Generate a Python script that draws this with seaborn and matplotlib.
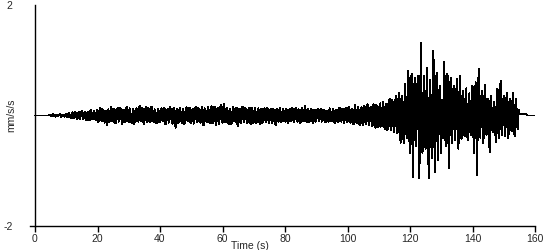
import numpy as np
import matplotlib
matplotlib.use("Agg")
import matplotlib.pyplot as plt
import seaborn as sns
import pandas as pd

# sample spacing of the trace (s)
dt = 0.25

# acceleration (mm/s/s): samples at whole/half seconds
acc_000 = [0, 0, 0, 0, 0, 0, 0, 0, 0, 0, 0.01, -0.01, 0.01, -0.02, 0.01, -0.01, 0.02, -0.01, 0.01, -0.02]
acc_010 = [0.02, -0.02, 0.03, -0.05, 0.06, -0.04, 0.05, -0.07, 0.06, -0.05, 0.08, -0.06, 0.07, -0.09, 0.06, -0.08, 0.10, -0.07, 0.09, -0.08]
acc_020 = [0.10, -0.08, 0.12, -0.10, 0.09, -0.12, -0.18, 0.11, -0.09, 0.13, -0.11, 0.10, -0.12, 0.14, -0.08, 0.12, -0.13, 0.09, -0.11, 0.15]
acc_030 = [-0.12, 0.10, -0.14, 0.12, -0.09, 0.13, -0.11, 0.18, -0.10, 0.12, -0.13, 0.16, -0.12, 0.11, -0.10, 0.14, -0.12, 0.10, -0.13, 0.12]
acc_040 = [-0.11, 0.13, -0.10, 0.12, -0.14, 0.11, -0.12, 0.10, -0.15, 0.13, -0.22, 0.12, -0.11, 0.14, -0.13, 0.10, -0.12, 0.15, -0.10, 0.13]
acc_050 = [-0.14, 0.12, -0.11, 0.16, -0.12, 0.10, -0.13, 0.15, -0.18, 0.12, -0.11, 0.14, -0.13, 0.17, -0.12, 0.15, -0.18, 0.13, -0.12, 0.19]
acc_060 = [-0.13, 0.21, -0.12, 0.14, -0.15, 0.12, -0.13, 0.16, -0.11, 0.14, -0.19, 0.12, -0.13, 0.15, -0.12, 0.11, -0.14, 0.13, -0.16, 0.12]
acc_070 = [-0.12, 0.14, -0.11, 0.13, -0.15, 0.12, -0.10, 0.13, -0.12, 0.11, -0.14, 0.12, -0.11, 0.10, -0.17, 0.12, -0.11, 0.13, -0.10, 0.12]
acc_080 = [-0.11, 0.10, -0.13, 0.12, -0.10, 0.11, -0.12, 0.14, -0.11, 0.10, -0.12, 0.13, -0.10, 0.18, -0.11, 0.12, -0.10, 0.11, -0.13, 0.10]
acc_090 = [-0.09, 0.11, -0.10, 0.12, -0.09, 0.10, -0.12, 0.09, -0.11, 0.12, -0.10, 0.11, -0.13, 0.10, -0.12, 0.14, -0.11, 0.12, -0.14, 0.13]
acc_100 = [-0.12, 0.15, -0.13, 0.12, -0.16, 0.19, -0.14, 0.13, -0.17, 0.15, -0.18, 0.16, -0.15, 0.20, -0.17, 0.16, -0.19, 0.18, -0.22, 0.17]
acc_110 = [-0.20, 0.22, -0.18, 0.20, -0.24, 0.21, -0.22, 0.30, -0.27, 0.24, -0.30, 0.36, -0.32, 0.40, -0.49, 0.35, -0.50, 0.58, -0.40, 0.81]
acc_120 = [-0.68, 0.76, -1.12, 0.68, -0.55, 0.72, -1.14, 1.31, -0.68, 0.72, -0.60, 0.86, -1.14, 0.65, -0.77, 1.17, -1.03, 0.77, -0.81, 0.54]
acc_130 = [-0.68, -0.40, 0.97, -0.55, 0.76, -0.95, 0.68, -0.50, 0.54, -0.45, 0.66, -0.60, 0.72, -0.42, 0.45, -0.38, 0.49, -0.45, 0.40, -0.35]
acc_140 = [0.54, -0.68, 0.60, -1.08, 0.85, -0.40, 0.45, -0.50, 0.55, -0.35, 0.30, -0.67, 0.35, -0.30, 0.25, -0.49, 0.49, -0.40, 0.63, -0.35]
acc_150 = [0.35, -0.38, 0.41, -0.41, 0.30, -0.28, 0.40, -0.38, 0.30, -0.25, 0.02, 0.02, 0.02, 0.02, 0.02, 0, 0, 0, 0, 0]
acc_160 = [0]

# samples a quarter second later than each of the above
mid_000 = [0, 0, 0, 0, 0, 0, 0, 0, 0, 0.01, -0.01, 0.02, -0.01, 0.01, -0.01, 0.02, -0.02, 0.01, -0.01, 0.01]
mid_010 = [-0.03, 0.04, -0.02, 0.03, -0.05, 0.06, -0.03, 0.04, -0.06, 0.07, -0.04, 0.05, -0.08, 0.05, -0.07, 0.09, -0.05, 0.08, -0.06, 0.10]
mid_020 = [-0.12, 0.14, -0.08, 0.11, -0.13, 0.09, 0.05, -0.12, 0.15, -0.10, 0.12, -0.14, 0.09, -0.11, 0.13, -0.15, 0.10, -0.12, 0.14, -0.09]
mid_030 = [0.13, -0.11, 0.09, -0.15, 0.12, -0.10, 0.14, -0.09, 0.13, -0.16, 0.10, -0.11, 0.14, -0.12, 0.16, -0.09, 0.11, -0.14, 0.10, -0.12]
mid_040 = [0.12, -0.09, 0.14, -0.16, 0.10, -0.13, 0.15, -0.11, 0.12, -0.10, 0.09, -0.14, 0.13, -0.10, 0.12, -0.15, 0.11, -0.09, 0.14, -0.12]
mid_050 = [0.10, -0.15, 0.13, -0.10, 0.14, -0.12, 0.11, -0.16, 0.13, -0.10, 0.15, -0.12, 0.10, -0.14, 0.16, -0.11, 0.12, -0.15, 0.14, -0.11]
mid_060 = [0.15, -0.11, 0.13, -0.12, 0.10, -0.16, 0.14, -0.10, 0.12, -0.15, 0.11, -0.13, 0.16, -0.10, 0.13, -0.12, 0.10, -0.11, 0.14, -0.13]
mid_070 = [0.10, -0.13, 0.12, -0.10, 0.11, -0.14, 0.12, -0.09, 0.14, -0.12, 0.10, -0.13, 0.12, -0.14, 0.11, -0.10, 0.13, -0.12, 0.11, -0.09]
mid_080 = [0.12, -0.11, 0.09, -0.10, 0.13, -0.12, 0.10, -0.09, 0.11, -0.13, 0.10, -0.09, 0.12, -0.10, 0.09, -0.11, 0.12, -0.10, 0.09, -0.11]
mid_090 = [0.10, -0.08, 0.09, -0.11, 0.10, -0.12, 0.08, -0.10, 0.13, -0.09, 0.11, -0.12, 0.09, -0.11, 0.13, -0.10, 0.12, -0.13, 0.11, -0.12]
mid_100 = [0.14, -0.12, 0.11, -0.15, 0.13, -0.12, 0.16, -0.15, 0.12, -0.14, 0.17, -0.13, 0.18, -0.16, 0.14, -0.18, 0.20, -0.15, 0.19, -0.21]
mid_110 = [0.18, -0.20, 0.24, -0.21, 0.19, -0.26, 0.25, -0.20, 0.28, -0.26, 0.25, -0.24, 0.28, -0.30, 0.30, -0.32, 0.30, -0.28, 0.38, -0.35]
mid_120 = [0.35, -0.40, 0.30, -0.45, 0.38, -0.42, 0.30, -0.36, 0.32, -0.45, 0.40, -0.38, 0.33, -0.40, 0.45, -0.35, 0.36, -0.40, 0.30, -0.33]
mid_130 = [0.28, 0.35, -0.38, 0.32, -0.36, 0.30, -0.35, 0.38, -0.30, 0.32, -0.33, 0.30, -0.32, 0.35, -0.28, 0.30, -0.32, 0.26, -0.28, 0.30]
mid_140 = [-0.30, 0.32, -0.35, 0.38, -0.30, 0.26, -0.28, 0.27, -0.22, 0.30, -0.32, 0.27, -0.24, 0.22, -0.26, 0.25, -0.30, 0.32, -0.25, 0.22]
mid_150 = [-0.22, 0.24, -0.26, 0.22, -0.22, 0.24, -0.22, 0.20, -0.18, 0.10, 0.02, 0.02, 0.02, 0.02, 0.02, 0, 0, 0, 0, 0]

acc_main = (acc_000 + acc_010 + acc_020 + acc_030 + acc_040 + acc_050 + acc_060 + acc_070
            + acc_080 + acc_090 + acc_100 + acc_110 + acc_120 + acc_130 + acc_140 + acc_150)
acc_mid = (mid_000 + mid_010 + mid_020 + mid_030 + mid_040 + mid_050 + mid_060 + mid_070
           + mid_080 + mid_090 + mid_100 + mid_110 + mid_120 + mid_130 + mid_140 + mid_150)
acc = [v for pair in zip(acc_main, acc_mid) for v in pair] + acc_160
time = np.arange(len(acc)) * dt

x_ticks = [0, 20, 40, 60, 80, 100, 120, 140, 160]
y_ticks = [-2, 2]
x_label = "Time (s)"
y_label = "mm/s/s"

df = pd.DataFrame({"time": time, "acc": acc})

sns.set_style("white")
plt.rcParams["font.family"] = ["Liberation Sans", "DejaVu Sans"]

fig = plt.figure(figsize=(5.5, 2.5), dpi=100)
ax = fig.add_axes([30 / 550, 1 - 226 / 250, 505 / 550, 221 / 250])

sns.lineplot(data=df, x="time", y="acc", color="black", linewidth=0.7,
             antialiased=False, ax=ax)

ax.set_xlim(-1.6, 160)
ax.set_ylim(-2, 2)
ax.spines["top"].set_visible(False)
ax.spines["right"].set_visible(False)
ax.spines["left"].set_position(("data", 0))
for s in ("left", "bottom"):
    ax.spines[s].set_color("black")
    ax.spines[s].set_linewidth(1.0)

ax.set_xticks(x_ticks)
ax.set_xticklabels([str(v) for v in x_ticks])
ax.set_yticks(y_ticks)
ax.set_yticklabels([str(v) for v in y_ticks])
ax.tick_params(axis="x", direction="out", length=4.5, width=1.0, color="black",
               labelsize=7.5, pad=1.5, bottom=True)
ax.tick_params(axis="y", length=0, labelsize=7.5, pad=16)

ax.set_xlabel(x_label, fontsize=7.5, labelpad=0)
ax.xaxis.set_label_coords(0.436, -0.07)
ax.set_ylabel(y_label, fontsize=7.5)
ax.yaxis.set_label_coords(-0.028, 0.5)

fig.savefig("out.png", dpi=100)
